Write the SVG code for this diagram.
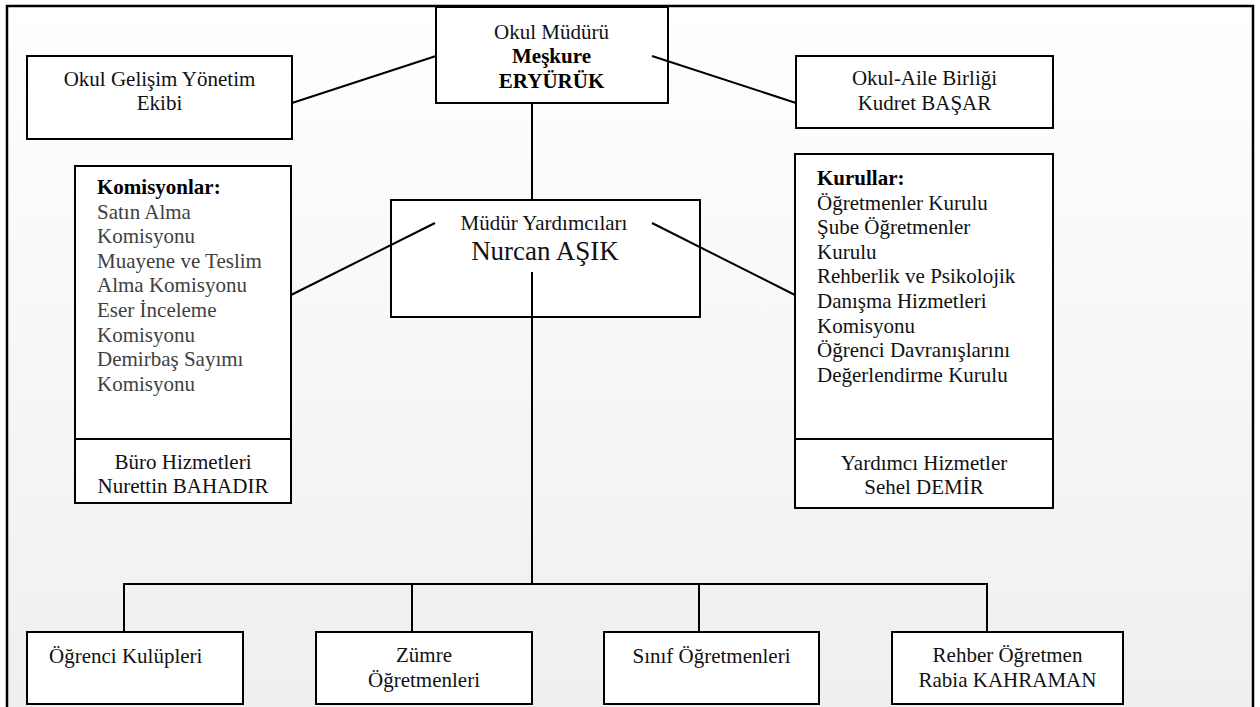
<svg xmlns="http://www.w3.org/2000/svg" width="1260" height="707" viewBox="0 0 1260 707">
<defs>
<linearGradient id="bg" x1="0" y1="0" x2="0" y2="707" gradientUnits="userSpaceOnUse">
<stop offset="0" stop-color="#ffffff"/>
<stop offset="1" stop-color="#efefef"/>
</linearGradient>
<style>
.box{fill:#ffffff;stroke:#000;stroke-width:2}
.ln{stroke:#000;stroke-width:2;fill:none}
text{font-family:'Liberation Serif','DejaVu Serif',serif;font-size:21px;fill:#111}
.c{text-anchor:middle}
.b{font-weight:bold;fill:#000}
.g{fill:#404040}
.big{font-size:27px}
</style>
</defs>
<rect x="0" y="0" width="1260" height="707" fill="#ffffff"/>
<rect id="frame" x="7" y="6" width="1246" height="720" fill="url(#bg)" stroke="#000" stroke-width="2.5"/>

<g id="okul-gelisim" font-family="Liberation Serif">
<rect class="box" x="27" y="56" width="265" height="83"/>
<text class="c" x="159.5" y="86">Okul Gelişim Yönetim</text>
<text class="c" x="159.5" y="110">Ekibi</text>
</g>

<g id="okul-muduru" font-family="Liberation Serif">
<rect class="box" x="436" y="7" width="232" height="96"/>
<text class="c" x="551.5" y="39">Okul Müdürü</text>
<text class="c b" x="551.5" y="63">Meşkure</text>
<text class="c b" x="551.5" y="88">ERYÜRÜK</text>
</g>

<g id="okul-aile" font-family="Liberation Serif">
<rect class="box" x="796" y="56" width="257" height="72"/>
<text class="c" x="924.5" y="85">Okul-Aile Birliği</text>
<text class="c" x="924.5" y="110">Kudret BAŞAR</text>
</g>

<g id="mudur-yardimcilari" font-family="Liberation Serif">
<rect class="box" x="391" y="200" width="309" height="117"/>
<text class="c" x="544" y="230">Müdür Yardımcıları</text>
<text class="c big" x="545" y="260">Nurcan AŞIK</text>
</g>

<g id="komisyonlar" font-family="Liberation Serif">
<rect class="box" x="75" y="166" width="216" height="273"/>
<text class="b" x="97" y="194">Komisyonlar:</text>
<text class="g" x="97" y="218.6">Satın Alma</text>
<text class="g" x="97" y="243.2">Komisyonu</text>
<text class="g" x="97" y="267.8">Muayene ve Teslim</text>
<text class="g" x="97" y="292.4">Alma Komisyonu</text>
<text class="g" x="97" y="317">Eser İnceleme</text>
<text class="g" x="97" y="341.6">Komisyonu</text>
<text class="g" x="97" y="366.2">Demirbaş Sayımı</text>
<text class="g" x="97" y="390.8">Komisyonu</text>
</g>

<g id="buro-hizmetleri" font-family="Liberation Serif">
<rect class="box" x="75" y="439" width="216" height="64"/>
<text class="c" x="183" y="469">Büro Hizmetleri</text>
<text class="c" x="183" y="493">Nurettin BAHADIR</text>
</g>

<g id="kurullar" font-family="Liberation Serif">
<rect class="box" x="795" y="154" width="258" height="285"/>
<text class="b" x="817" y="185">Kurullar:</text>
<text x="817" y="209.6">Öğretmenler Kurulu</text>
<text x="817" y="234.2">Şube Öğretmenler</text>
<text x="817" y="258.8">Kurulu</text>
<text x="817" y="283.4">Rehberlik ve Psikolojik</text>
<text x="817" y="308">Danışma Hizmetleri</text>
<text x="817" y="332.6">Komisyonu</text>
<text x="817" y="357.2">Öğrenci Davranışlarını</text>
<text x="817" y="381.8">Değerlendirme Kurulu</text>
</g>

<g id="yardimci-hizmetler" font-family="Liberation Serif">
<rect class="box" x="795" y="439" width="258" height="69"/>
<text class="c" x="924" y="470">Yardımcı Hizmetler</text>
<text class="c" x="924" y="494">Sehel DEMİR</text>
</g>

<g id="ogrenci-kulupleri" font-family="Liberation Serif">
<rect class="box" x="27" y="632" width="216" height="72"/>
<text x="49" y="663">Öğrenci Kulüpleri</text>
</g>

<g id="zumre-ogretmenleri" font-family="Liberation Serif">
<rect class="box" x="316" y="632" width="216" height="72"/>
<text class="c" x="424" y="662">Zümre</text>
<text class="c" x="424" y="687">Öğretmenleri</text>
</g>

<g id="sinif-ogretmenleri" font-family="Liberation Serif">
<rect class="box" x="604" y="632" width="215" height="72"/>
<text class="c" x="711.5" y="663">Sınıf Öğretmenleri</text>
</g>

<g id="rehber-ogretmen" font-family="Liberation Serif">
<rect class="box" x="892" y="632" width="231" height="72"/>
<text class="c" x="1007.5" y="662">Rehber Öğretmen</text>
<text class="c" x="1007.5" y="687">Rabia KAHRAMAN</text>
</g>

<g id="connectors">
<line class="ln" x1="292" y1="103" x2="436" y2="56"/>
<line class="ln" x1="652" y1="56" x2="796" y2="103"/>
<line class="ln" x1="532" y1="103" x2="532" y2="200"/>
<line class="ln" x1="291" y1="295" x2="435" y2="223"/>
<line class="ln" x1="652" y1="223" x2="795" y2="295"/>
<line class="ln" x1="532" y1="272" x2="532" y2="584"/>
<line class="ln" x1="124" y1="584" x2="987" y2="584"/>
<line class="ln" x1="124" y1="583" x2="124" y2="632"/>
<line class="ln" x1="412" y1="584" x2="412" y2="632"/>
<line class="ln" x1="699" y1="584" x2="699" y2="632"/>
<line class="ln" x1="987" y1="583" x2="987" y2="632"/>
</g>
</svg>
